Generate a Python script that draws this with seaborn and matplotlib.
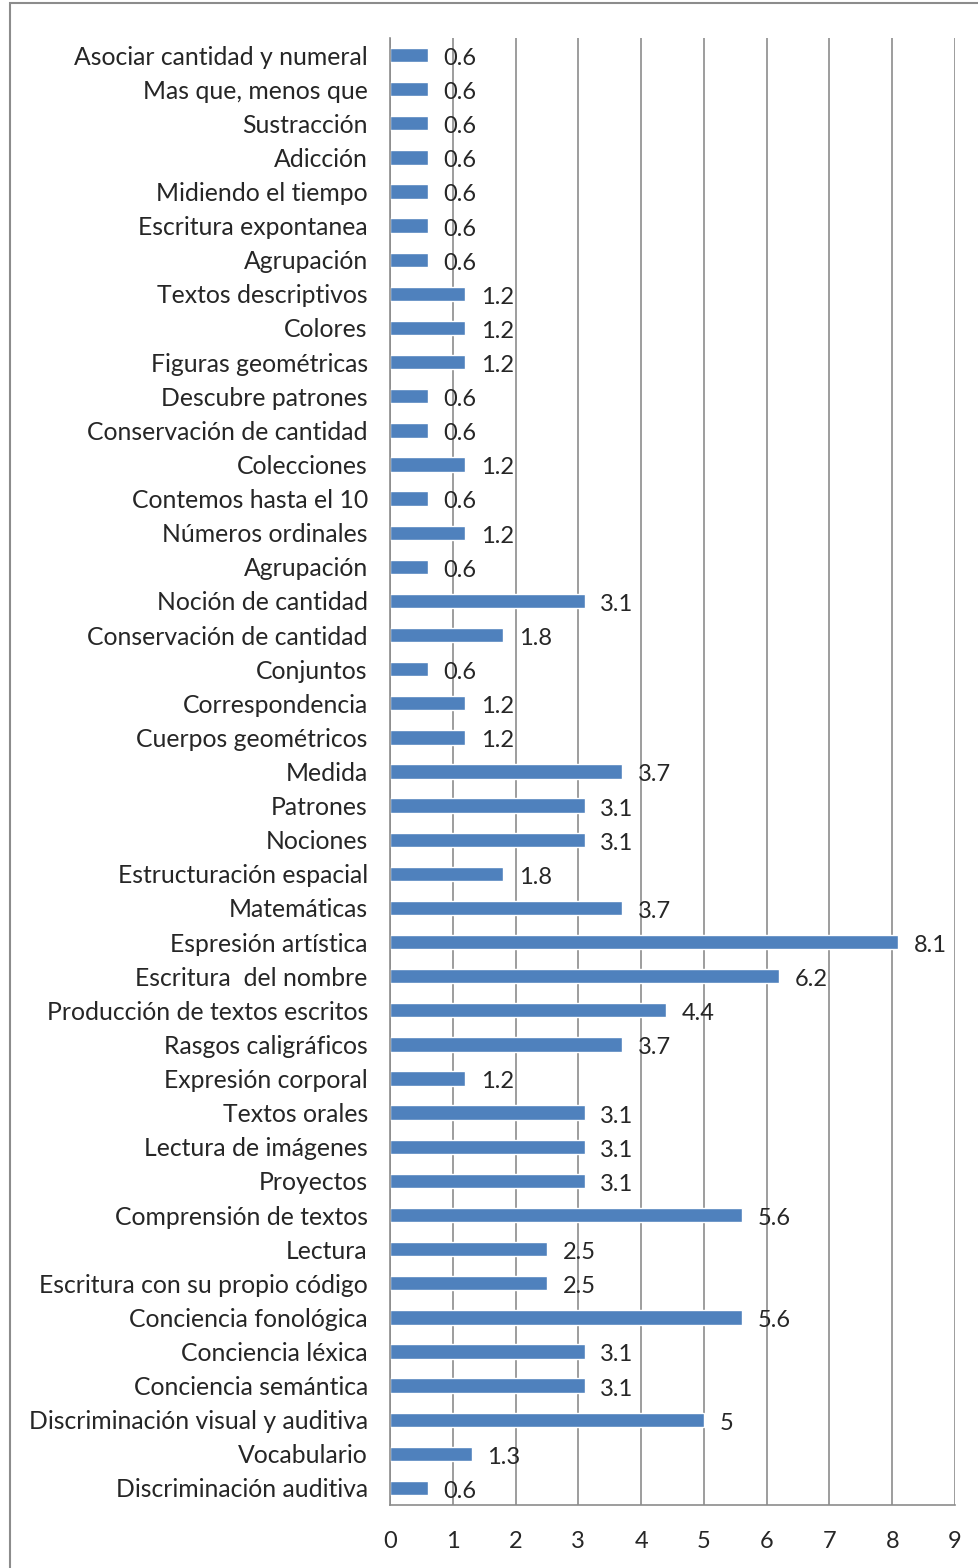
import matplotlib
matplotlib.use("Agg")
import matplotlib.pyplot as plt
import seaborn as sns
import pandas as pd

# categories top -> bottom as shown in the chart
temas = [
    "Asociar cantidad y numeral", "Mas que, menos que", "Sustracción", "Adicción",
    "Midiendo el tiempo", "Escritura expontanea", "Agrupación", "Textos descriptivos",
    "Colores", "Figuras geométricas", "Descubre patrones", "Conservación de cantidad",
    "Colecciones", "Contemos hasta el 10", "Números ordinales", "Agrupación ",
    "Noción de cantidad", "Conservación de cantidad ", "Conjuntos", "Correspondencia",
    "Cuerpos geométricos", "Medida", "Patrones", "Nociones", "Estructuración espacial",
    "Matemáticas", "Espresión artística", "Escritura  del nombre",
    "Producción de textos escritos", "Rasgos caligráficos", "Expresión corporal",
    "Textos orales", "Lectura de imágenes", "Proyectos", "Comprensión de textos",
    "Lectura", "Escritura con su propio código", "Conciencia fonológica",
    "Conciencia léxica", "Conciencia semántica", "Discriminación visual y auditiva",
    "Vocabulario", "Discriminación auditiva",
]
porcentajes = [
    0.6, 0.6, 0.6, 0.6, 0.6, 0.6, 0.6, 1.2, 1.2, 1.2, 0.6, 0.6, 1.2, 0.6, 1.2, 0.6,
    3.1, 1.8, 0.6, 1.2, 1.2, 3.7, 3.1, 3.1, 1.8, 3.7, 8.1, 6.2, 4.4, 3.7, 1.2,
    3.1, 3.1, 3.1, 5.6, 2.5, 2.5, 5.6, 3.1, 3.1, 5.0, 1.3, 0.6,
]
etiquetas = ["0.6", "0.6", "0.6", "0.6", "0.6", "0.6", "0.6", "1.2", "1.2", "1.2",
             "0.6", "0.6", "1.2", "0.6", "1.2", "0.6", "3.1", "1.8", "0.6", "1.2",
             "1.2", "3.7", "3.1", "3.1", "1.8", "3.7", "8.1", "6.2", "4.4", "3.7",
             "1.2", "3.1", "3.1", "3.1", "5.6", "2.5", "2.5", "5.6", "3.1", "3.1",
             "5", "1.3", "0.6"]

df = pd.DataFrame({"tema": temas, "valor": porcentajes})

sns.set_style("white")
plt.rcParams["font.family"] = ["Lato", "DejaVu Sans"]

fig = plt.figure(figsize=(9.79, 15.68), dpi=100)
ax = fig.add_axes([390 / 979, 1 - 1505 / 1568, (955 - 390) / 979, (1505 - 38) / 1568])

sns.barplot(data=df, x="valor", y="tema", color="#4F81BD", width=0.42,
            saturation=1, ax=ax, orient="h")

ax.set_xlim(0, 9)
ax.set_xticks(range(10))
ax.set_ylim(len(temas) - 0.5, -0.5)
ax.xaxis.grid(True, color="#8C8C8C", linewidth=1.2)
ax.set_axisbelow(True)
ax.set_xlabel("")
ax.set_ylabel("")

for s in ["top", "right"]:
    ax.spines[s].set_visible(False)
ax.spines["left"].set_color("#8C8C8C")
ax.spines["bottom"].set_color("#8C8C8C")
ax.spines["left"].set_linewidth(1.2)
ax.spines["bottom"].set_linewidth(1.2)

# tick marks between categories on y axis
ax.set_yticks(range(len(temas)))
ax.set_yticklabels([t.strip() for t in temas], fontsize=17.8)
ax.set_yticks([i - 0.5 for i in range(len(temas) + 1)], minor=True)
ax.tick_params(axis="y", which="major", length=0, pad=16)
ax.tick_params(axis="y", which="minor", length=6, color="#8C8C8C", width=1.2)
ax.tick_params(axis="x", length=6, color="#8C8C8C", width=1.2, labelsize=17, pad=13)

for i, (v, lab) in enumerate(zip(porcentajes, etiquetas)):
    ax.text(v + 0.25, i + 0.1, lab, va="center", ha="left", fontsize=17)

# outer chart frame
fig.patches.append(plt.Rectangle((10 / 979, -0.01), 1.0, 1 - 3 / 1568 + 0.01,
                                 transform=fig.transFigure, fill=False,
                                 edgecolor="#8C8C8C", linewidth=1.5))

fig.savefig("out.png", dpi=100)
